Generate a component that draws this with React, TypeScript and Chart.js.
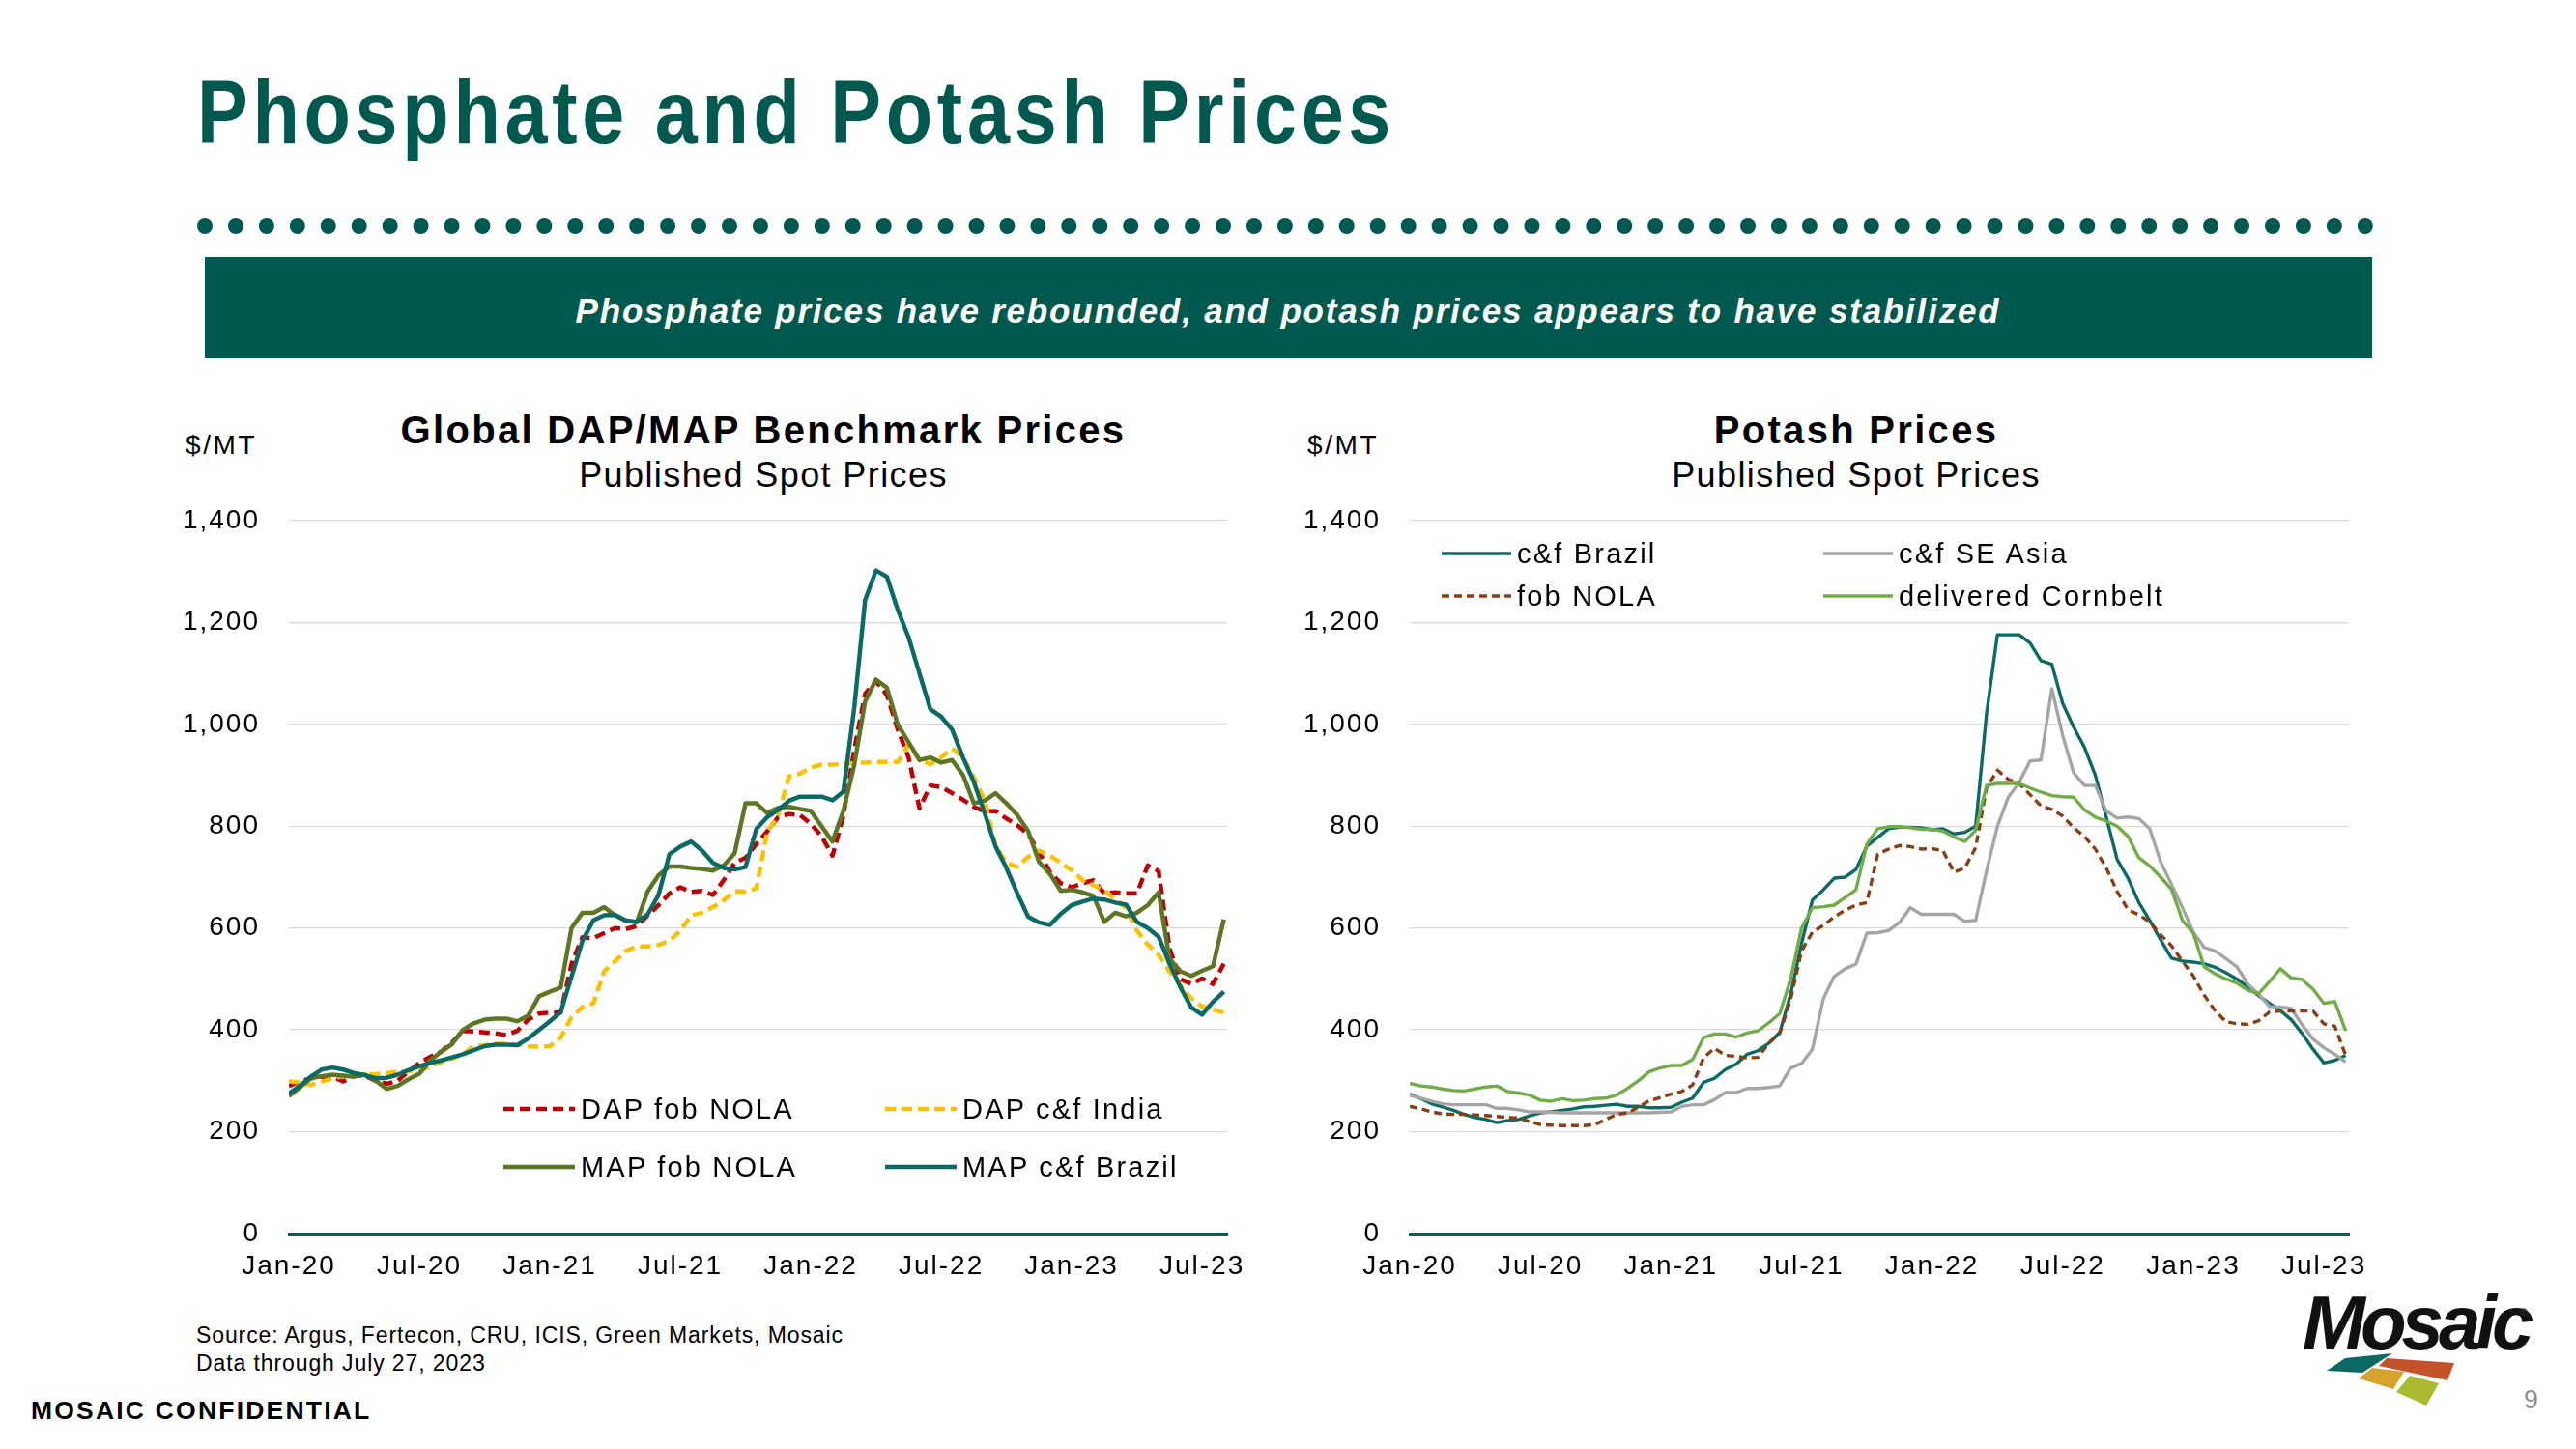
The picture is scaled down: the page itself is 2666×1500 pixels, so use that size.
import React, { useEffect, useRef } from 'react';
import { Chart, registerables } from 'chart.js';

Chart.register(...registerables);

// ---------- DATA ----------
// x positions: months since Jan-2020, half-month steps (0 .. 43)
const xMonths: number[] = Array.from({ length: 87 }, (_, i) => i / 2);
const tickMonths: number[] = [0, 6, 12, 18, 24, 30, 36, 42];
const tickLabels: string[] = ['Jan-20', 'Jul-20', 'Jan-21', 'Jul-21', 'Jan-22', 'Jul-22', 'Jan-23', 'Jul-23'];
const yMax = 1400;
const yStep = 200;

// Phosphate (DAP / MAP), $/MT
const dapFobNola: number[] = [
  290, 299, 305, 308, 308, 299, 310, 310, 300, 294, 300, 318,
  335, 347, 357, 375, 398, 397, 395, 393, 390, 398, 420, 432,
  434, 434, 530, 582, 580, 590, 600, 598, 604, 625, 645, 668,
  680, 671, 673, 665, 694, 728, 738, 765, 790, 818, 824, 822,
  805, 780, 742, 820, 950, 1060, 1085, 1058, 990, 935, 835, 880,
  877, 865, 852, 838, 829, 830, 815, 802, 784, 750, 710, 688,
  680, 688, 694, 668, 670, 668, 668, 723, 712, 560, 500, 490,
  501, 490, 530,
];
const dapCfrIndia: number[] = [
  299, 297, 292, 298, 305, 309, 310, 312, 313, 315, 318, 319,
  320, 328, 337, 343, 352, 368, 370, 373, 372, 371, 368, 367,
  368, 385, 425, 445, 452, 515, 535, 555, 564, 564, 567, 575,
  595, 625, 630, 641, 655, 672, 672, 678, 790, 820, 898, 903,
  915, 921, 921, 922, 924, 925, 926, 926, 926, 960, 930, 922,
  935, 953, 935, 897, 850, 762, 728, 720, 740, 752, 742, 728,
  714, 694, 684, 675, 656, 640, 595, 568, 548, 515, 487, 462,
  446, 440, 434,
];
const mapFobNola: number[] = [
  270, 287, 305, 309, 312, 310, 308, 312, 300, 284, 290, 303,
  314, 340, 357, 372, 400, 413, 420, 422, 422, 417, 428, 466,
  475, 483, 600, 630, 630, 641, 625, 615, 612, 672, 704, 721,
  721, 718, 716, 713, 723, 747, 845, 845, 826, 836, 838, 834,
  830, 800, 770, 830, 920, 1045, 1088, 1072, 1000, 965, 930, 935,
  925, 930, 901, 845, 850, 865, 845, 822, 790, 730, 706, 673,
  675, 670, 663, 612, 630, 623, 630, 645, 670, 540, 515, 506,
  516, 525, 617,
];
const mapCfrBrazil: number[] = [
  275, 290, 308, 322, 326, 322, 315, 311, 305, 306, 312, 321,
  329, 335, 340, 346, 352, 360, 368, 371, 371, 370, 383, 400,
  417, 435, 505, 575, 615, 625, 626, 614, 612, 627, 665, 745,
  760, 770, 752, 728, 718, 715, 720, 795, 818, 832, 850, 858,
  858, 858, 851, 868, 1032, 1244, 1302, 1290, 1225, 1171, 1100, 1030,
  1015, 990, 935, 887, 825, 760, 718, 668, 622, 611, 606, 628,
  645, 652, 658, 656, 650, 646, 612, 600, 583, 530, 484, 444,
  430, 455, 475,
];

// Potash, $/MT
const potCfrBrazil: number[] = [
  274, 265, 255, 249, 242, 234, 228, 224, 218, 222, 224, 231,
  237, 239, 242, 245, 249, 250, 252, 254, 250, 250, 247, 247,
  248, 258, 266, 297, 305, 322, 333, 352, 359, 374, 395, 470,
  570, 655, 675, 698, 700, 715, 761, 778, 795, 798, 798, 797,
  793, 795, 785, 788, 800, 1021, 1176, 1176, 1176, 1160, 1125, 1118,
  1041, 995, 955, 900, 818, 735, 698, 650, 615, 577, 541, 535,
  533, 530, 523, 512, 500, 485, 467, 452, 438, 420, 393, 362,
  335, 340, 350,
];
const potCfrSEAsia: number[] = [
  272, 266, 260, 255, 253, 253, 253, 253, 246, 246, 243, 239,
  239, 238, 237, 237, 237, 237, 237, 237, 237, 237, 237, 238,
  239, 250, 253, 253, 263, 277, 277, 285, 285, 287, 290, 325,
  334, 362, 461, 505, 520, 529, 590, 591, 595, 611, 640, 627,
  627, 627, 627, 613, 615, 712, 800, 857, 886, 928, 930, 1070,
  978, 905, 880, 880, 830, 816, 818, 815, 795, 730, 686, 640,
  592, 562, 555, 540, 524, 490, 470, 446, 445, 442, 410, 382,
  365, 352, 337,
];
const potFobNola: number[] = [
  250, 245, 239, 235, 234, 234, 233, 232, 230, 228, 227, 220,
  214, 213, 212, 212, 212, 214, 224, 234, 237, 248, 261, 267,
  274, 279, 292, 345, 364, 350, 348, 345, 346, 374, 393, 460,
  555, 592, 605, 622, 635, 645, 650, 745, 755, 762, 760, 755,
  756, 752, 710, 718, 758, 875, 910, 892, 884, 862, 840, 833,
  820, 797, 780, 755, 718, 672, 636, 626, 612, 587, 565, 535,
  506, 468, 438, 416, 412, 411, 418, 435, 437, 437, 437, 437,
  412, 407, 350,
];
const potDelCornbelt: number[] = [
  295, 290, 288, 284, 281, 280, 284, 288, 290, 279, 276, 272,
  262, 260, 265, 261, 262, 265, 266, 272, 285, 300, 318, 325,
  330, 330, 342, 385, 392, 392, 386, 394, 398, 414, 432, 500,
  600, 640, 642, 645, 660, 675, 765, 795, 799, 799, 797, 794,
  794, 790, 779, 770, 792, 880, 884, 884, 884, 875, 867, 860,
  858, 857, 832, 818, 810, 800, 780, 738, 722, 700, 676, 615,
  590, 524, 510, 500, 492, 478, 471, 495, 520, 502, 499, 480,
  452, 456, 398,
];

// ---------- STYLE ----------
const FONT = '"Liberation Sans", Arial, Helvetica, sans-serif';
const TEAL_DARK = '#00594F';

type Series = { label: string; values: number[]; color: string; width: number; dash: number[] };

const phosSeries: Series[] = [
  { label: 'DAP fob NOLA', values: dapFobNola, color: '#C00000', width: 4.5, dash: [11, 6] },
  { label: 'DAP c&f India', values: dapCfrIndia, color: '#FFC000', width: 4.5, dash: [11, 6] },
  { label: 'MAP fob NOLA', values: mapFobNola, color: '#5D7624', width: 4.5, dash: [] },
  { label: 'MAP c&f Brazil', values: mapCfrBrazil, color: '#0A6B66', width: 4.5, dash: [] },
];
const potSeries: Series[] = [
  { label: 'c&f Brazil', values: potCfrBrazil, color: '#0A6B66', width: 3.4, dash: [] },
  { label: 'c&f SE Asia', values: potCfrSEAsia, color: '#A5A5A5', width: 3.4, dash: [] },
  { label: 'fob NOLA', values: potFobNola, color: '#8B3E10', width: 3.4, dash: [8, 5] },
  { label: 'delivered Cornbelt', values: potDelCornbelt, color: '#70AD47', width: 3.4, dash: [] },
];

const spacingPlugin = {
  id: 'letterSpacing',
  beforeUpdate(chart: any) { chart.ctx.letterSpacing = '2px'; },
  beforeDraw(chart: any) { chart.ctx.letterSpacing = '2px'; },
};

function LineChart(props: { series: Series[]; left: number; top: number; width: number; height: number }) {
  const { series, left, top, width, height } = props;
  const ref = useRef<HTMLCanvasElement | null>(null);
  useEffect(() => {
    const canvas = ref.current;
    if (!canvas) return;
    const tickFont = { family: FONT, size: 28 };
    const chart = new Chart(canvas, {
      type: 'line',
      data: {
        datasets: [...series].reverse().map((s) => ({
          label: s.label,
          data: xMonths.map((x, i) => ({ x, y: s.values[i] })),
          borderColor: s.color,
          borderWidth: s.width,
          borderDash: s.dash,
          borderJoinStyle: 'round' as const,
          pointRadius: 0,
          fill: false,
          tension: 0,
        })),
      },
      options: {
        animation: false,
        responsive: false,
        devicePixelRatio: 1,
        layout: { padding: { top: 45, right: 30, left: 0, bottom: 0 } },
        plugins: { legend: { display: false }, tooltip: { enabled: false }, title: { display: false } },
        scales: {
          x: {
            type: 'linear',
            min: 0,
            max: 43.15,
            afterBuildTicks: (s: any) => { s.ticks = tickMonths.map((v) => ({ value: v })); },
            afterFit: (s: any) => {
              s.height = 63;
              s.paddingLeft = 0;
              s.paddingRight = 0;
            },
            ticks: {
              autoSkip: false,
              maxRotation: 0,
              minRotation: 0,
              padding: 17,
              color: '#000',
              font: tickFont,
              callback: (v: any) => tickLabels[tickMonths.indexOf(Number(v))] ?? '',
            },
            grid: { display: false, drawTicks: false },
            border: { display: true, color: '#0B5E57', width: 3 },
          },
          y: {
            type: 'linear',
            min: 0,
            max: yMax,
            afterFit: (s: any) => {
              s.width = 119;
              s.paddingTop = 0;
              s.paddingBottom = 0;
            },
            ticks: {
              stepSize: yStep,
              padding: 30,
              color: '#000',
              font: tickFont,
              callback: (v: any) => Number(v).toLocaleString('en-US'),
            },
            grid: {
              drawTicks: false,
              lineWidth: 1.3,
              color: (ctx: any) => (ctx.tick && ctx.tick.value === 0 ? 'rgba(0,0,0,0)' : '#D9D9D9'),
            },
            border: { display: false },
          },
        },
      } as any,
      plugins: [spacingPlugin],
    });
    return () => chart.destroy();
  }, [series]);
  return (
    <canvas
      ref={ref}
      width={width}
      height={height}
      style={{ position: 'absolute', left, top, width, height }}
    />
  );
}

type TxtProps = {
  x: number; y: number; size: number; children: React.ReactNode;
  weight?: number; italic?: boolean; ls?: number; color?: string;
  align?: 'left' | 'center'; sx?: number;
};
function Txt({ x, y, size, children, weight = 400, italic = false, ls = 0, color = '#000', align = 'left', sx = 1 }: TxtProps) {
  const tx = align === 'center' ? 'translateX(-50%) ' : '';
  return (
    <div
      style={{
        position: 'absolute',
        left: x,
        top: y - size / 2,
        fontSize: size,
        lineHeight: `${size}px`,
        fontWeight: weight,
        fontStyle: italic ? 'italic' : 'normal',
        letterSpacing: ls,
        color,
        whiteSpace: 'nowrap',
        fontFamily: FONT,
        transform: `${tx}scaleX(${sx})`,
        transformOrigin: align === 'center' ? 'center center' : 'left center',
      }}
    >
      {children}
    </div>
  );
}

function LegendItem({ s, x, y, lineLen }: { s: Series; x: number; y: number; lineLen: number }) {
  return (
    <>
      <svg
        style={{ position: 'absolute', left: x, top: y - 10, overflow: 'visible' }}
        width={lineLen}
        height={20}
      >
        <line
          x1={0} y1={10} x2={lineLen} y2={10}
          stroke={s.color}
          strokeWidth={s.width}
          strokeDasharray={s.dash.length ? s.dash.join(' ') : undefined}
        />
      </svg>
      <Txt x={x + lineLen + 6} y={y} size={29} ls={2.2}>{s.label}</Txt>
    </>
  );
}

function Dots() {
  const dots: number[] = Array.from({ length: 71 }, (_, i) => i);
  return (
    <svg style={{ position: 'absolute', left: 0, top: 220 }} width={2666} height={30}>
      {dots.map((i) => (
        <circle key={i} cx={212 + i * 31.94} cy={14} r={8} fill={TEAL_DARK} />
      ))}
    </svg>
  );
}

function Logo() {
  return (
    <>
      <div
        style={{
          position: 'absolute', left: 2383, top: 1330, fontFamily: FONT, fontSize: 78,
          fontWeight: 900, fontStyle: 'italic', letterSpacing: -5, color: '#111',
          lineHeight: '78px', whiteSpace: 'nowrap',
        }}
      >
        Mosaic
      </div>
      <div style={{ position: 'absolute', left: 2608, top: 1352, fontFamily: FONT, fontSize: 11, color: '#333' }}>®</div>
      <svg style={{ position: 'absolute', left: 0, top: 0 }} width={2666} height={1500}>
        <polygon points="2408,1419 2427,1406 2476,1401 2445,1421" fill="#0B6B63" />
        <polygon points="2470,1406 2540,1411 2533,1429 2462,1414" fill="#C4522A" />
        <polygon points="2455,1416 2488,1420 2477,1438 2441,1427" fill="#D6A42A" />
        <polygon points="2494,1424 2524,1432 2511,1455 2480,1441" fill="#AAB92E" />
      </svg>
    </>
  );
}

export default function App() {
  return (
    <div
      style={{
        position: 'absolute', left: 0, top: 0, width: 2666, height: 1500,
        background: '#fff', overflow: 'hidden', fontFamily: FONT,
      }}
    >
      {/* Page title */}
      <Txt x={204} y={116} size={92} weight={700} ls={5.5} sx={0.86} color={TEAL_DARK}>
        Phosphate and Potash Prices
      </Txt>
      <Dots />
      {/* Banner */}
      <div style={{ position: 'absolute', left: 212, top: 266, width: 2243, height: 105, background: TEAL_DARK }} />
      <Txt x={1333} y={321} size={35} weight={700} italic ls={1.8} color="#fff" align="center">
        Phosphate prices have rebounded, and potash prices appears to have stabilized
      </Txt>

      {/* Left chart */}
      <Txt x={790} y={445} size={40} weight={700} ls={2.3} align="center">Global DAP/MAP Benchmark Prices</Txt>
      <Txt x={790} y={492} size={36} ls={1.4} align="center">Published Spot Prices</Txt>
      <Txt x={192} y={461} size={28} ls={2.6}>$/MT</Txt>
      <LineChart series={phosSeries} left={180} top={494} width={1120} height={846} />
      <LegendItem s={phosSeries[0]} x={521} y={1148} lineLen={74} />
      <LegendItem s={phosSeries[1]} x={916} y={1148} lineLen={74} />
      <LegendItem s={phosSeries[2]} x={521} y={1208} lineLen={74} />
      <LegendItem s={phosSeries[3]} x={916} y={1208} lineLen={74} />

      {/* Right chart */}
      <Txt x={1921} y={445} size={40} weight={700} ls={2.3} align="center">Potash Prices</Txt>
      <Txt x={1921} y={492} size={36} ls={1.4} align="center">Published Spot Prices</Txt>
      <Txt x={1353} y={461} size={28} ls={2.6}>$/MT</Txt>
      <LineChart series={potSeries} left={1340} top={494} width={1121} height={846} />
      <LegendItem s={potSeries[0]} x={1492} y={573} lineLen={72} />
      <LegendItem s={potSeries[1]} x={1887} y={573} lineLen={72} />
      <LegendItem s={potSeries[2]} x={1492} y={617} lineLen={72} />
      <LegendItem s={potSeries[3]} x={1887} y={617} lineLen={72} />

      {/* Footer */}
      <Txt x={203} y={1382} size={23} ls={0.9}>Source: Argus, Fertecon, CRU, ICIS, Green Markets, Mosaic</Txt>
      <Txt x={203} y={1411} size={23} ls={0.9}>Data through July 27, 2023</Txt>
      <Txt x={32} y={1460} size={26.5} weight={700} ls={2.2}>MOSAIC CONFIDENTIAL</Txt>
      <Logo />
      <Txt x={2612} y={1449} size={27} color="#8C8C8C">9</Txt>
    </div>
  );
}
